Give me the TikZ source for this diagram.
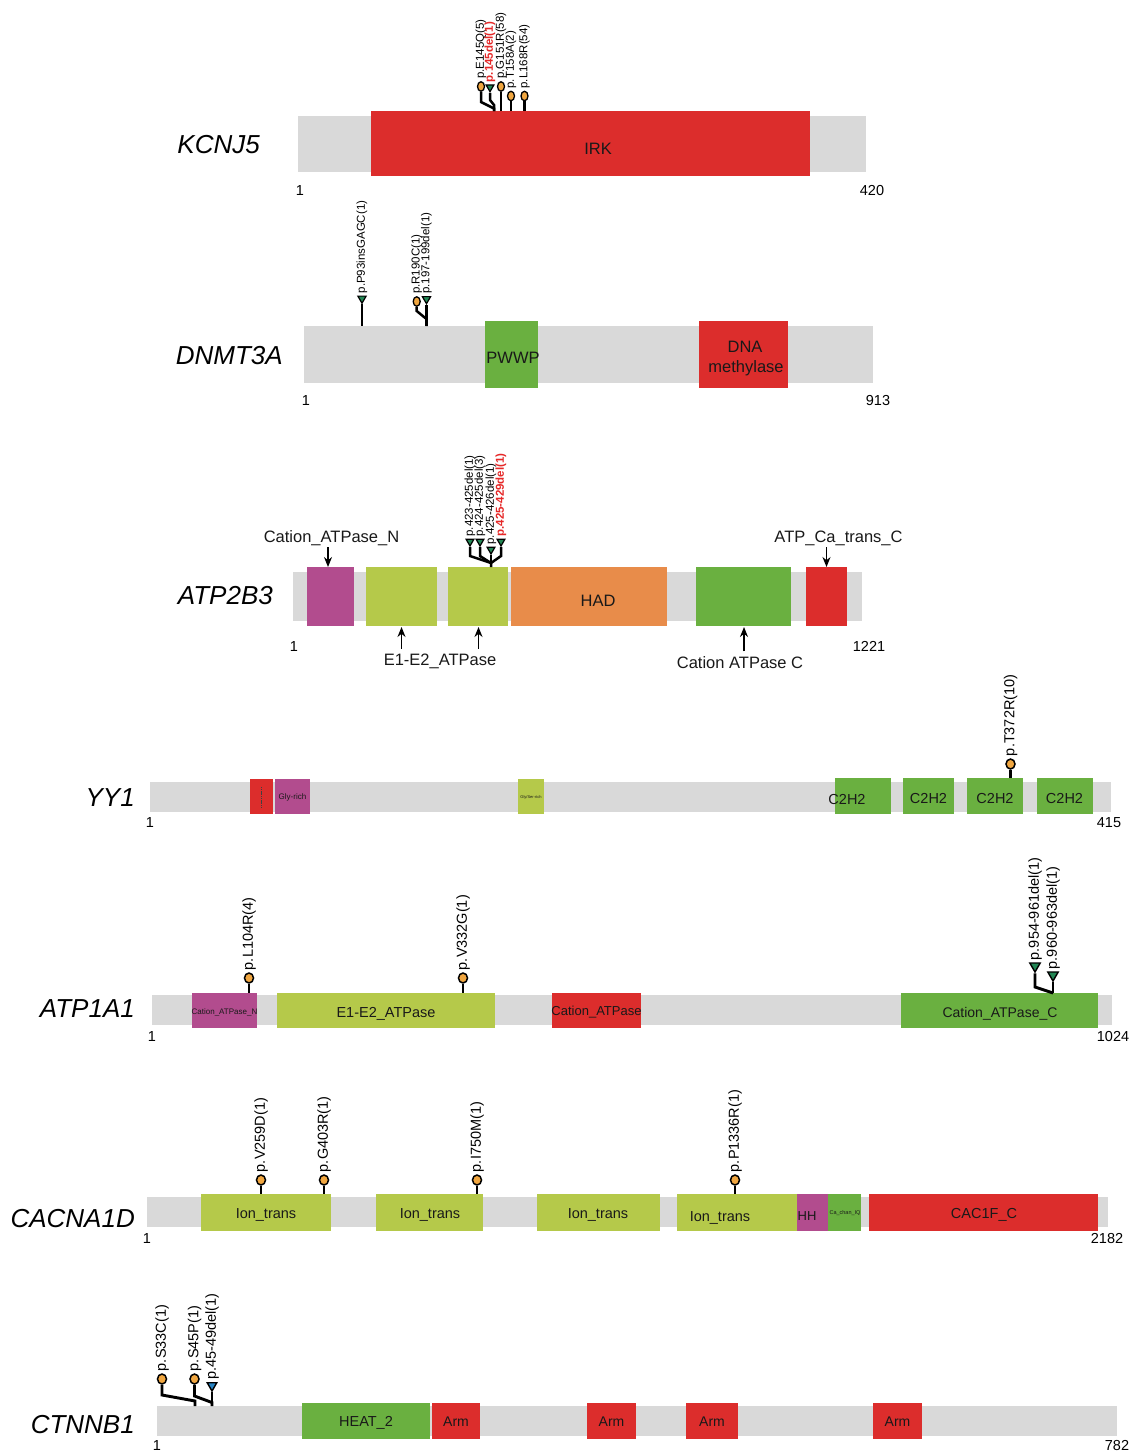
\documentclass[tikz,border=0pt]{standalone}
\usepackage{fontspec}
\setmainfont{Liberation Sans}
\usepackage{tikz}
\usetikzlibrary{arrows.meta, positioning, shapes.geometric}

\definecolor{bargray}{RGB}{217,217,217}
\definecolor{domred}{RGB}{220,45,44}
\definecolor{domgreen}{RGB}{106,176,64}
\definecolor{domlime}{RGB}{181,201,74}
\definecolor{dommagenta}{RGB}{178,76,142}
\definecolor{domorange}{RGB}{232,140,74}
\definecolor{headorange}{RGB}{240,166,64}
\definecolor{delgreen}{RGB}{34,134,84}
\definecolor{delblue}{RGB}{40,132,196}
\definecolor{labred}{RGB}{230,40,40}

\newcommand{\fsz}[1]{\fontsize{#1}{#1}\selectfont}
\newcommand{\dombox}[6]{\node[dbox, fill=#2, minimum width={(#5)-(#3)}, minimum height={(#6)-(#4)}] (#1) at ({((#3)+(#5))/2},{((#4)+(#6))/2}) {};}

\begin{document}
\begin{tikzpicture}[x=1pt, y=-1pt,
    dbox/.style={draw=none, inner sep=0, outer sep=0},
    gene/.style={font=\fsz{26}\itshape, inner sep=0, anchor=base east},
    dlab/.style={font=\fsz{16.5}, inner sep=0, anchor=base, text=black!90},
    slab/.style={font=\fsz{14.5}, inner sep=0, anchor=base, text=black!90},
    num/.style={font=\fsz{14.5}, inner sep=0, anchor=base},
    annot/.style={-{Stealth[length=10pt,width=8pt]}, line width=1.2pt},
    hd/.style={ellipse, draw, fill=headorange, line width=1.3pt, inner sep=0, minimum width=7pt, minimum height=9.5pt},
    hdL/.style={hd, line width=1.5pt, minimum width=9pt, minimum height=10pt},
    dl/.style={regular polygon, regular polygon sides=3, shape border rotate=180, draw, fill=delgreen, line width=1.2pt, inner sep=0, minimum size=9.5pt},
    dlL/.style={dl, line width=1.4pt, minimum size=12pt},
    stemU/.style={line width=2.5pt},
    stemL/.style={line width=2.9pt},
    mlab/.style={rotate=90, anchor=west, inner sep=2pt, font=\fsz{11.5}},
    mlabL/.style={mlab, font=\fsz{14.5}},
    dellab/.style={text=labred, font=\fsz{11.5}\bfseries}]

  \path[use as bounding box, fill=white] (0,0) rectangle (1129,1454);

  % KCNJ5
  \dombox{kc-bar}{bargray}{298}{116}{866}{172}
  \dombox{kc-irk}{domred}{371}{111}{810}{176}
  \node[gene] (kcnj5) at (260,153.3) {KCNJ5};
  \node[dlab] (kc-irk-t) at (598,154) {IRK};
  \node[num] (kc-s) at (300,195) {1};
  \node[num] (kc-e) at (872,195) {420};
  \coordinate (kc-a) at (494,111);
  \coordinate (kc-b) at (501,111);
  \coordinate (kc-c) at (511,111);
  \coordinate (kc-d) at (524.5,111);
  \node[hd] (kc1) at (481,86.5) {};
  \node[dl, minimum size=9pt] (kc2) at (490,87.2) {};
  \node[hd] (kc3) at (501,86.5) {};
  \node[hd] (kc4) at (511,96) {};
  \node[hd] (kc5) at (524.5,96) {};
  \draw[stemU] (kc1) -- (481,102) -- (494,108.5) -- (kc-a);
  \draw[stemU] (kc2) -- (490,100) -- (494,105) -- (kc-a);
  \draw[stemU] (kc3) -- (kc-b);
  \draw[stemU] (kc4) -- (kc-c);
  \draw[stemU] (kc5) -- (kc-d);
  \node[mlab] (kc1-t) at (kc1.north) {p.E145Q(5)};
  \node[mlab, dellab] (kc2-t) at (kc2.north) {p.145del(1)};
  \node[mlab] (kc3-t) at (kc3.north) {p.G151R(58)};
  \node[mlab] (kc4-t) at (kc4.north) {p.T158A(2)};
  \node[mlab] (kc5-t) at (kc5.north) {p.L168R(54)};

  % DNMT3A
  \dombox{dn-bar}{bargray}{304}{326}{873}{383}
  \dombox{dn-pwwp}{domgreen}{485}{321}{538}{388}
  \dombox{dn-meth}{domred}{699}{321}{788}{388}
  \node[gene] (dnmt3a) at (283,364.3) {DNMT3A};
  \node[dlab] (dn-pwwp-t) at (513,363) {PWWP};
  \node[dlab] (dn-meth-t1) at (745,352) {DNA};
  \node[dlab] (dn-meth-t2) at (746,372) {methylase};
  \node[num] (dn-s) at (306,405) {1};
  \node[num] (dn-e) at (878,405) {913};
  \coordinate (dn-a) at (362,326);
  \coordinate (dn-b) at (426.5,326);
  \node[dl] (dn1) at (362,298.5) {};
  \node[hd] (dn2) at (416.7,301.5) {};
  \node[dl] (dn3) at (426.5,299) {};
  \draw[stemU] (dn1) -- (dn-a);
  \draw[stemU] (dn2) -- (416.7,311) -- (426.5,319) -- (dn-b);
  \draw[stemU] (dn3) -- (dn-b);
  \node[mlab] (dn1-t) at (dn1.north) {p.P93insGAGC(1)};
  \node[mlab] (dn2-t) at (dn2.north) {p.R190C(1)};
  \node[mlab] (dn3-t) at (dn3.north) {p.197-199del(1)};

  % ATP2B3
  \dombox{at-bar}{bargray}{293}{572}{862}{621}
  \dombox{at-n}{dommagenta}{307}{567}{354}{626}
  \dombox{at-e1}{domlime}{366}{567}{437}{626}
  \dombox{at-e2}{domlime}{448}{567}{508}{626}
  \dombox{at-had}{domorange}{511}{567}{667}{626}
  \dombox{at-c}{domgreen}{696}{567}{791}{626}
  \dombox{at-ca}{domred}{806}{567}{847}{626}
  \node[gene] (atp2b3) at (273,604.3) {ATP2B3};
  \node[dlab] (at-had-t) at (598,606) {HAD};
  \node[num] (at-s) at (294,651) {1};
  \node[num] (at-e) at (869,651) {1221};
  \node[dlab] (at-n-t) at (331.5,542) {Cation\_ATPase\_N};
  \node[dlab] (at-ca-t) at (838.5,542) {ATP\_Ca\_trans\_C};
  \node[dlab] (at-e-t) at (440,665.5) {E1-E2\_ATPase};
  \node[dlab] (at-c-t) at (740,668.5) {Cation ATPase C};
  \coordinate (at-n-p) at (328,567);
  \coordinate (at-ca-p) at (826.5,567);
  \coordinate (at-e1-p) at (401.5,627);
  \coordinate (at-e2-p) at (478.5,627);
  \coordinate (at-c-p) at (744,627);
  \draw[annot, shorten <=2pt] (at-n-t.south -| at-n-p) -- (at-n-p);
  \draw[annot, shorten <=2pt] (at-ca-t.south -| at-ca-p) -- (at-ca-p);
  \draw[annot, shorten <=5pt] (at-e-t.north -| at-e1-p) -- (at-e1-p);
  \draw[annot, shorten <=5pt] (at-e-t.north -| at-e2-p) -- (at-e2-p);
  \draw[annot, shorten <=5pt] (at-c-t.north -| at-c-p) -- (at-c-p);
  \coordinate (at-a) at (491,567);
  \node[dl, minimum size=9pt] (at1) at (470,541.5) {};
  \node[dl, minimum size=9pt] (at2) at (480,541.5) {};
  \node[dl, minimum size=9pt] (at3) at (491,549.5) {};
  \node[dl, minimum size=9pt] (at4) at (501,541.5) {};
  \draw[stemU] (at1) -- (470,556) -- (491,563) -- (at-a);
  \draw[stemU] (at2) -- (480,556) -- (491,563);
  \draw[stemU] (at3) -- (at-a);
  \draw[stemU] (at4) -- (501,556) -- (491,563);
  \node[mlab] (at1-t) at (at1.north) {p.423-425del(1)};
  \node[mlab] (at2-t) at (at2.north) {p.424-425del(3)};
  \node[mlab] (at3-t) at (at3.north) {p.425-426del(1)};
  \node[mlab, dellab] (at4-t) at (at4.north) {p.425-429del(1)};

  % YY1
  \dombox{yy-bar}{bargray}{150}{782}{1111}{812}
  \dombox{yy-r}{domred}{250}{779}{273}{814}
  \dombox{yy-g}{dommagenta}{275}{779}{310}{814}
  \dombox{yy-gs}{domlime}{518}{779}{544}{814}
  \dombox{yy-z1}{domgreen}{835}{778}{891}{814}
  \dombox{yy-z2}{domgreen}{903}{778}{954}{814}
  \dombox{yy-z3}{domgreen}{967}{778}{1023}{814}
  \dombox{yy-z4}{domgreen}{1037}{778}{1093}{814}
  \draw[black!75, line width=0.6pt, dash pattern=on 1.2pt off 0.6pt] (261.5,787) -- (261.5,807);
  \node[gene] (yy1) at (135,806) {YY1};
  \node[slab, font=\fsz{8}] (yy-g-t) at (292.5,799.4) {Gly-rich};
  \node[slab, font=\fsz{4}] (yy-gs-t) at (531,798.5) {Gly/Ser-rich};
  \node[slab] (yy-z1-t) at (847,804.5) {C2H2};
  \node[slab] (yy-z2-t) at (928.5,803) {C2H2};
  \node[slab] (yy-z3-t) at (995,803) {C2H2};
  \node[slab] (yy-z4-t) at (1064.5,803) {C2H2};
  \node[num] (yy-s) at (150,827) {1};
  \node[num] (yy-e) at (1109,827) {415};
  \coordinate (yy-a) at (1010.5,778);
  \node[hdL] (yy1m) at (1010.5,764) {};
  \draw[stemL] (yy1m) -- (yy-a);
  \node[mlabL] (yy1m-t) at (yy1m.north) {p.T372R(10)};

  % ATP1A1
  \dombox{a1-bar}{bargray}{152}{995}{1112}{1025}
  \dombox{a1-n}{dommagenta}{192}{993}{257}{1028}
  \dombox{a1-e}{domlime}{277}{993}{495}{1028}
  \dombox{a1-p}{domred}{552}{993}{641}{1028}
  \dombox{a1-c}{domgreen}{901}{993}{1098}{1028}
  \node[gene] (atp1a1) at (135,1017) {ATP1A1};
  \node[slab, font=\fsz{8}] (a1-n-t) at (224.5,1014) {Cation\_ATPase\_N};
  \node[slab] (a1-e-t) at (386,1017) {E1-E2\_ATPase};
  \node[slab, font=\fsz{13}] (a1-p-t) at (596.5,1015.7) {Cation\_ATPase};
  \node[slab, font=\fsz{14}] (a1-c-t) at (1000,1017) {Cation\_ATPase\_C};
  \node[num] (a1-s) at (152,1041) {1};
  \node[num] (a1-e) at (1113,1041) {1024};
  \coordinate (a1-a) at (249,993);
  \coordinate (a1-b) at (463,993);
  \coordinate (a1-c) at (1053,993);
  \node[hdL] (a1m1) at (249,978) {};
  \node[hdL] (a1m2) at (463,978) {};
  \node[dlL] (a1m3) at (1035,966) {};
  \node[dlL] (a1m4) at (1053,975) {};
  \draw[stemL] (a1m1) -- (a1-a);
  \draw[stemL] (a1m2) -- (a1-b);
  \draw[stemL] (a1m3) -- (1035,987) -- (a1-c);
  \draw[stemL] (a1m4) -- (a1-c);
  \node[mlabL] (a1m1-t) at (a1m1.north) {p.L104R(4)};
  \node[mlabL] (a1m2-t) at (a1m2.north) {p.V332G(1)};
  \node[mlabL] (a1m3-t) at (a1m3.north) {p.954-961del(1)};
  \node[mlabL] (a1m4-t) at (a1m4.north) {p.960-963del(1)};

  % CACNA1D
  \dombox{ca-bar}{bargray}{147}{1197}{1108}{1227}
  \dombox{ca-i1}{domlime}{201}{1194}{331}{1231}
  \dombox{ca-i2}{domlime}{376}{1194}{483}{1231}
  \dombox{ca-i3}{domlime}{537}{1194}{660}{1231}
  \dombox{ca-i4}{domlime}{677}{1194}{797}{1231}
  \dombox{ca-hh}{dommagenta}{797}{1194}{828}{1231}
  \dombox{ca-iq}{domgreen}{828}{1194}{861}{1231}
  \dombox{ca-c}{domred}{869}{1194}{1098}{1231}
  \node[gene] (cacna1d) at (135,1227) {CACNA1D};
  \node[slab] (ca-i1-t) at (266,1218) {Ion\_trans};
  \node[slab] (ca-i2-t) at (430,1218) {Ion\_trans};
  \node[slab] (ca-i3-t) at (598,1218) {Ion\_trans};
  \node[slab] (ca-i4-t) at (720,1221) {Ion\_trans};
  \node[slab, font=\fsz{13}] (ca-hh-t) at (807,1220.7) {HH};
  \node[slab, font=\fsz{5.5}] (ca-iq-t) at (845,1214) {Ca\_chan\_IQ};
  \node[slab] (ca-c-t) at (984,1218) {CAC1F\_C};
  \node[num] (ca-s) at (147,1243) {1};
  \node[num] (ca-e) at (1107,1243) {2182};
  \coordinate (ca-a) at (261,1194);
  \coordinate (ca-b) at (324,1194);
  \coordinate (ca-c2) at (477,1194);
  \coordinate (ca-d) at (735,1194);
  \node[hdL] (cam1) at (261,1180) {};
  \node[hdL] (cam2) at (324,1180) {};
  \node[hdL] (cam3) at (477,1180) {};
  \node[hdL] (cam4) at (735,1180) {};
  \draw[stemL] (cam1) -- (ca-a);
  \draw[stemL] (cam2) -- (ca-b);
  \draw[stemL] (cam3) -- (ca-c2);
  \draw[stemL] (cam4) -- (ca-d);
  \node[mlabL] (cam1-t) at (cam1.north) {p.V259D(1)};
  \node[mlabL] (cam2-t) at (cam2.north) {p.G403R(1)};
  \node[mlabL] (cam3-t) at (cam3.north) {p.I750M(1)};
  \node[mlabL] (cam4-t) at (cam4.north) {p.P1336R(1)};

  % CTNNB1
  \dombox{ct-bar}{bargray}{157}{1406}{1117}{1436}
  \dombox{ct-h}{domgreen}{302}{1403}{430}{1439}
  \dombox{ct-a1}{domred}{432}{1403}{480}{1439}
  \dombox{ct-a2}{domred}{587}{1403}{636}{1439}
  \dombox{ct-a3}{domred}{686}{1403}{738}{1439}
  \dombox{ct-a4}{domred}{873}{1403}{922}{1439}
  \node[gene] (ctnnb1) at (135,1433) {CTNNB1};
  \node[slab] (ct-h-t) at (366,1426) {HEAT\_2};
  \node[slab, font=\fsz{14}] (ct-a1-t) at (456,1426) {Arm};
  \node[slab, font=\fsz{14}] (ct-a2-t) at (611.5,1426) {Arm};
  \node[slab, font=\fsz{14}] (ct-a3-t) at (712,1426) {Arm};
  \node[slab, font=\fsz{14}] (ct-a4-t) at (897.5,1426) {Arm};
  \node[num] (ct-s) at (157,1450) {1};
  \node[num] (ct-e) at (1117,1450) {782};
  \coordinate (ct-a) at (195,1406);
  \coordinate (ct-b) at (212,1406);
  \node[hdL] (ctm1) at (162,1379) {};
  \node[hdL] (ctm2) at (194.5,1379) {};
  \node[dlL, fill=delblue, minimum size=11pt] (ctm3) at (212,1385.5) {};
  \draw[stemL] (ctm1) -- (162,1395) -- (195,1401) -- (ct-a);
  \draw[stemL] (ctm2) -- (194.5,1396) -- (212,1402.5) -- (ct-b);
  \draw[stemL] (ctm3) -- (ct-b);
  \node[mlabL] (ctm1-t) at (ctm1.north) {p.S33C(1)};
  \node[mlabL] (ctm2-t) at (ctm2.north) {p.S45P(1)};
  \node[mlabL] (ctm3-t) at (ctm3.north) {p.45-49del(1)};
\end{tikzpicture}
\end{document}
